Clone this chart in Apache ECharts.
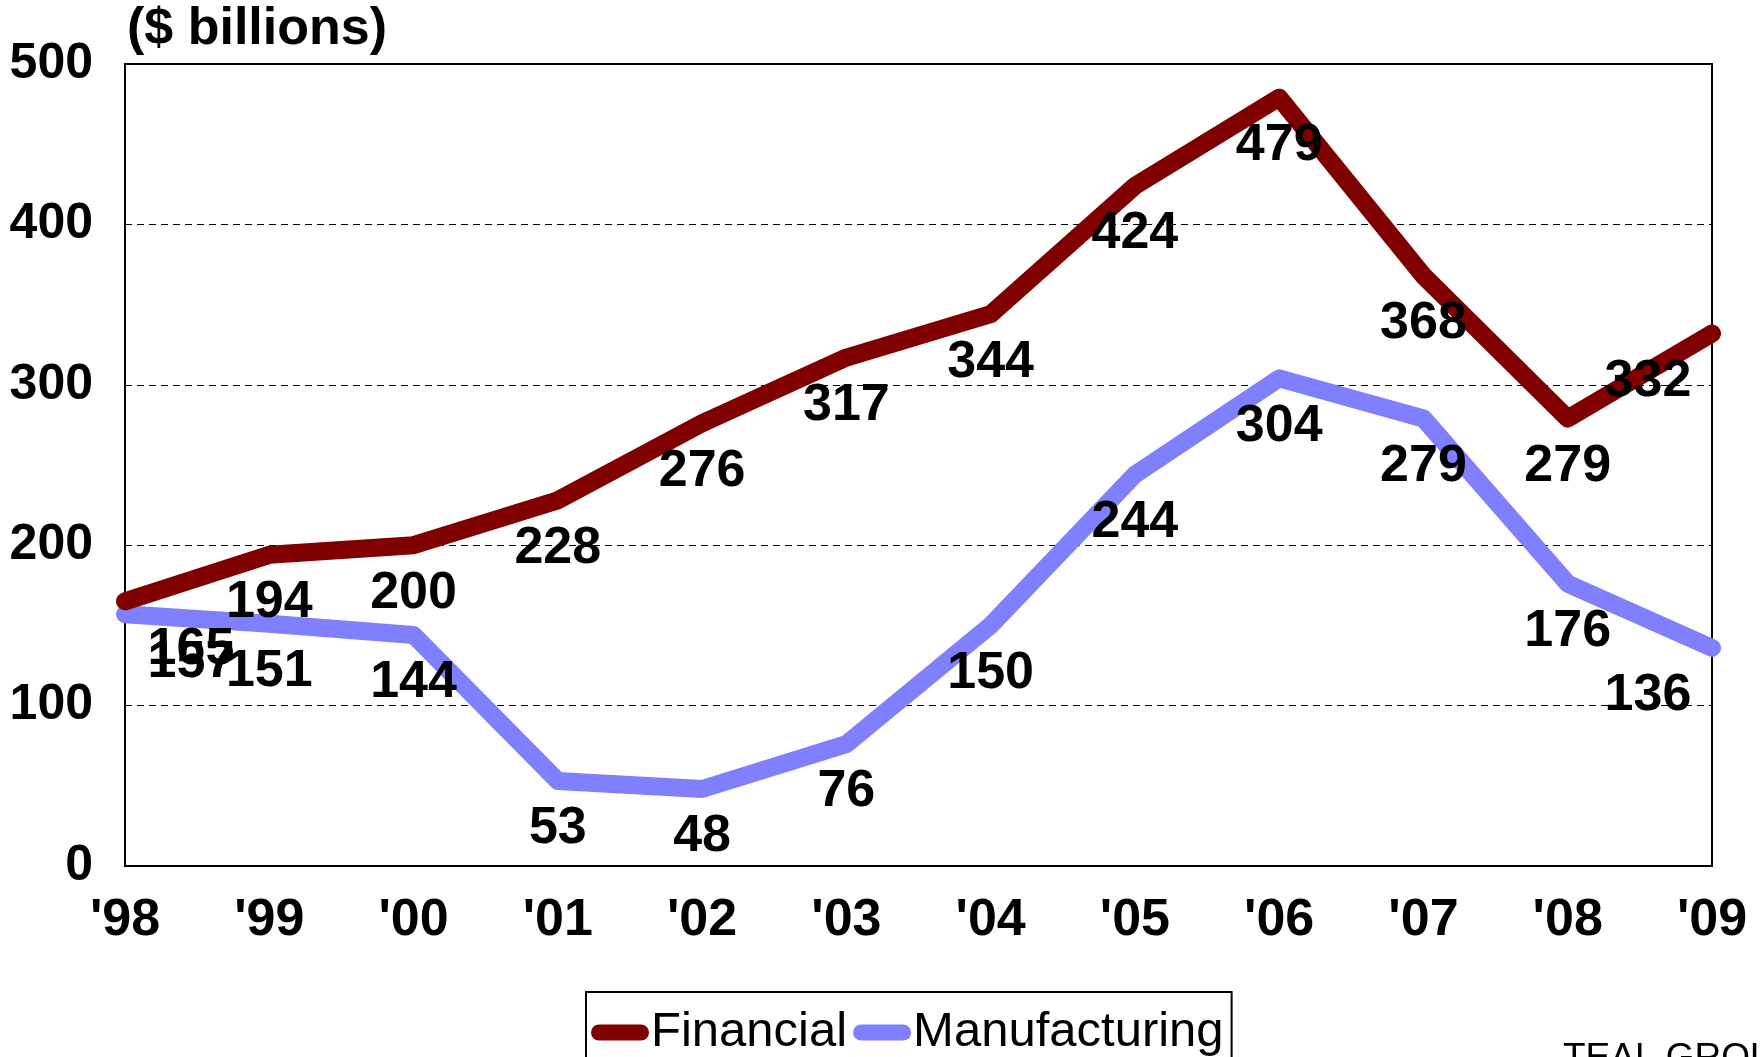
<!DOCTYPE html>
<html>
<head>
<meta charset="utf-8">
<script src="https://cdn.jsdelivr.net/npm/echarts@6/dist/echarts.min.js"></script>
<style>
html,body{margin:0;padding:0;background:#fff;}
#chart{width:1763px;height:1057px;}
</style>
</head>
<body>
<div id="chart"></div>
<script>
const years = ["'98","'99","'00","'01","'02","'03","'04","'05","'06","'07","'08","'09"];
const financial = [165,194,200,228,276,317,344,424,479,368,279,332];
const manufacturing = [157,151,144,53,48,76,150,244,304,279,176,136];
const yTicks = [0,100,200,300,400,500];

const FONT = "'Liberation Sans', Arial, sans-serif";
const PILL = 'path://M8,0 L50,0 A8,8 0 0 1 50,16 L8,16 A8,8 0 0 1 8,0 Z';

function labelled(values) {
  return values.map((v, i) => {
    const d = { value: [i, v] };
    if (i === 0) d.label = { offset: [66, 0] };
    if (i === values.length - 1) d.label = { offset: [-64, 0] };
    return d;
  });
}

const labelStyle = { show: true, position: 'bottom', distance: 22, fontFamily: FONT, fontWeight: 'bold', fontSize: 52, color: '#000', opacity: 1,
  formatter: p => String(p.value[1]) };

const chart = echarts.init(document.getElementById('chart'));
chart.setOption({
  animation: false,
  backgroundColor: '#fff',
  title: {
    text: '($ billions)',
    left: 122, top: -1,
    textStyle: { fontFamily: FONT, fontWeight: 'bold', fontSize: 52, color: '#000' }
  },
  grid: {
    left: 125, right: 51, top: 64, bottom: 191,
    show: true, borderColor: '#000', borderWidth: 2, backgroundColor: 'transparent'
  },
  legend: {
    left: 586, top: 992,
    padding: [16, 8, 8, 5],
    borderColor: '#000', borderWidth: 2,
    itemWidth: 58, itemHeight: 16, itemGap: 6,
    textStyle: { fontFamily: FONT, fontSize: 49, color: '#000', padding: [0, 0, 0, -3] },
    data: [
      { name: 'Financial', icon: PILL, itemStyle: { color: '#800000', opacity: 1 } },
      { name: 'Manufacturing', icon: PILL, itemStyle: { color: '#8080FF', opacity: 1 } }
    ]
  },
  graphic: [{
    type: 'text', left: 1563, top: 1040,
    style: { text: 'TEAL GROUP', fontFamily: FONT, fontSize: 37, fill: '#000' }
  }],
  xAxis: {
    type: 'category', data: years, boundaryGap: false,
    axisLine: { show: true, lineStyle: { color: '#000', width: 2 } },
    axisTick: { show: false },
    axisLabel: { fontFamily: FONT, fontWeight: 'bold', fontSize: 52, color: '#000', margin: 29 }
  },
  yAxis: {
    type: 'value', min: yTicks[0], max: yTicks[yTicks.length - 1], interval: 100,
    axisLine: { show: true, lineStyle: { color: '#000', width: 2 } },
    axisTick: { show: false },
    axisLabel: { fontFamily: FONT, fontWeight: 'bold', fontSize: 50, color: '#000', margin: 32 },
    splitLine: { show: true, lineStyle: { color: '#000', width: 1, type: [7, 5] } }
  },
  series: [
    {
      name: 'Financial', type: 'line', data: financial,
      showSymbol: false, symbol: 'none',
      itemStyle: { color: '#800000' },
      lineStyle: { color: '#800000', width: 18, cap: 'round', join: 'round' },
      z: 4
    },
    {
      name: 'Manufacturing', type: 'line', data: manufacturing,
      showSymbol: false, symbol: 'none',
      itemStyle: { color: '#8080FF' },
      lineStyle: { color: '#8080FF', width: 18, cap: 'round', join: 'round' },
      z: 3
    },
    {
      name: 'FinancialLabels', type: 'scatter', data: labelled(financial),
      symbolSize: 0, itemStyle: { color: '#000', opacity: 1 },
      label: labelStyle, z: 6, silent: true
    },
    {
      name: 'ManufacturingLabels', type: 'scatter', data: labelled(manufacturing),
      symbolSize: 0, itemStyle: { color: '#000', opacity: 1 },
      label: labelStyle, z: 6, silent: true
    }
  ]
});
</script>
</body>
</html>
